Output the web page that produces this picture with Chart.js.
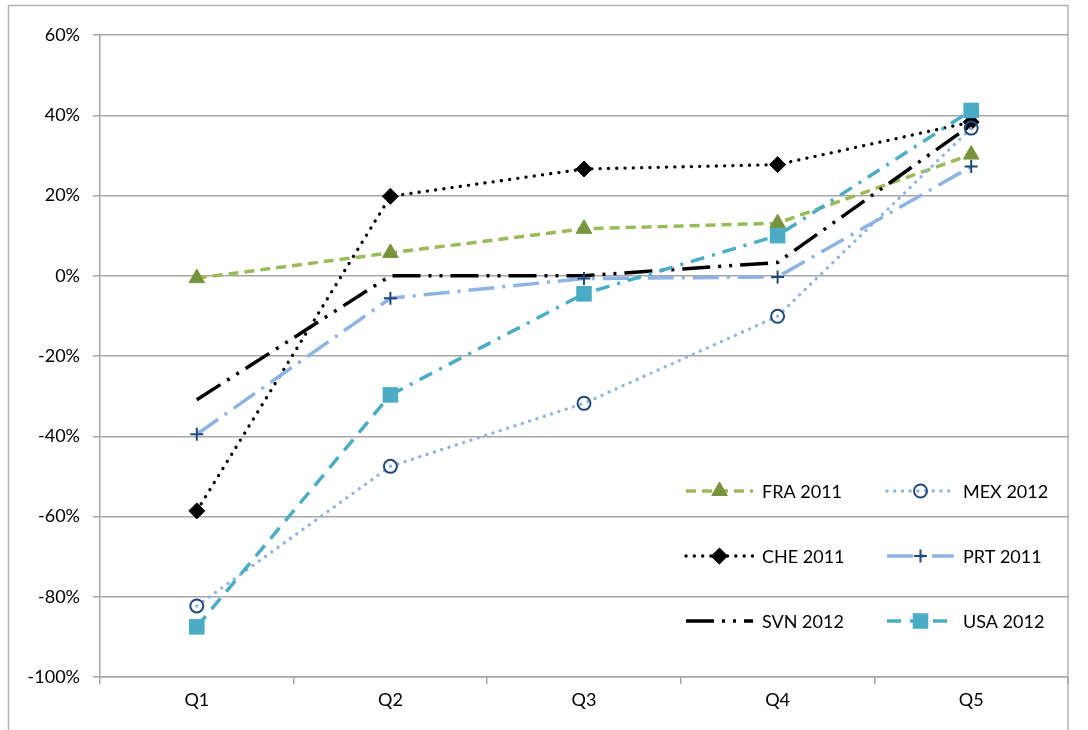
<!DOCTYPE html>
<html>
<head>
<meta charset="utf-8">
<script src="https://cdn.jsdelivr.net/npm/chart.js@4/dist/chart.umd.min.js"></script>
<style>
  html, body { margin: 0; padding: 0; background: #fff; }
  #wrap { width: 1088px; height: 730px; position: relative; }
</style>
</head>
<body>
<div id="wrap"><canvas id="quintilChart" width="1088" height="730"></canvas></div>
<script>
// categorias y series (en %)
const categories = ['Q1', 'Q2', 'Q3', 'Q4', 'Q5'];
const fra2011 = [-0.6, 5.7, 11.7, 13.1, 30.2];
const mex2012 = [-82.3, -47.5, -31.8, -10.1, 36.8];
const che2011 = [-58.6, 19.8, 26.6, 27.7, 38.3];
const prt2011 = [-39.5, -5.6, -0.7, -0.3, 27.2];
const svn2012 = [-30.9, 0.0, 0.0, 3.3, 37.6];
const usa2012 = [-87.5, -29.7, -4.5, 10.0, 41.2];
const yTicks = [60, 40, 20, 0, -20, -40, -60, -80, -100];

const FONT = 'Lato, "Open Sans", sans-serif';

const datasets = [{
    label: 'FRA 2011', data: fra2011,
    borderColor: '#9bbb59', borderWidth: 3.5, borderDash: [10, 6],
    pointStyle: 'triangle', pointRadius: 9, pointBackgroundColor: '#77933c', pointBorderColor: '#77933c', pointBorderWidth: 1,
    order: 6
}, {
    label: 'MEX 2012', data: mex2012,
    borderColor: '#8eb4e3', borderWidth: 3.3, borderDash: [0.1, 7.6], borderCapStyle: 'round',
    pointStyle: 'circle', pointRadius: 6.5, pointBackgroundColor: 'rgba(0,0,0,0)', pointBorderColor: '#1f497d', pointBorderWidth: 2,
    order: 3
}, {
    label: 'CHE 2011', data: che2011,
    borderColor: '#000000', borderWidth: 3.3, borderDash: [0.1, 8.2], borderCapStyle: 'round',
    pointStyle: 'rectRot', pointRadius: 8, pointBackgroundColor: '#000000', pointBorderColor: '#000000', pointBorderWidth: 1,
    order: 5
}, {
    label: 'PRT 2011', data: prt2011,
    borderColor: '#8eb4e3', borderWidth: 3.5, borderDash: [26, 8, 3, 8],
    pointStyle: 'cross', pointRadius: 6.5, pointBackgroundColor: '#1f497d', pointBorderColor: '#1f497d', pointBorderWidth: 2,
    order: 2
}, {
    label: 'SVN 2012', data: svn2012,
    borderColor: '#000000', borderWidth: 3.5, borderDash: [28, 8, 3, 8, 3, 8],
    pointRadius: 0, pointStyle: false,
    order: 4
}, {
    label: 'USA 2012', data: usa2012,
    borderColor: '#4bacc6', borderWidth: 3.5, borderDash: [14, 8, 3, 8],
    segment: { borderDash: c => c.p0DataIndex === 0 ? [14, 9] : [14, 8, 3, 8] },
    pointStyle: 'rect', pointRadius: 11, pointBackgroundColor: '#4bacc6', pointBorderColor: '#4bacc6', pointBorderWidth: 0,
    order: 1
}];
datasets.forEach(d => { d.fill = false; d.tension = 0; d.pointHoverRadius = d.pointRadius; });

// marco exterior y leyenda dentro del area del grafico
const decoPlugin = {
    id: 'deco',
    beforeDraw(chart) {
        const c = chart.ctx;
        c.save();
        c.strokeStyle = '#b3b3b3';
        c.lineWidth = 1.5;
        c.beginPath();
        c.moveTo(8.5, 740);
        c.lineTo(8.5, 5.5);
        c.lineTo(1068, 5.5);
        c.lineTo(1068, 740);
        c.stroke();
        c.restore();
    },
    afterDraw(chart) {
        const c = chart.ctx;
        const rows = [491, 556, 621];
        const cols = [686, 887];
        chart.data.datasets.forEach((ds, i) => {
            const x0 = cols[i % 2];
            const y = rows[Math.floor(i / 2)];
            c.save();
            c.strokeStyle = ds.borderColor;
            c.lineWidth = ds.borderWidth;
            c.lineCap = ds.borderCapStyle || 'butt';
            c.setLineDash(ds.label === 'USA 2012' ? [14, 9] : ds.borderDash);
            c.beginPath();
            c.moveTo(x0, y);
            c.lineTo(x0 + 67, y);
            c.stroke();
            c.setLineDash([]);
            if (ds.pointRadius > 0) {
                c.fillStyle = ds.pointBackgroundColor;
                c.strokeStyle = ds.pointBorderColor;
                c.lineWidth = ds.pointBorderWidth;
                Chart.helpers.drawPoint(c, {
                    pointStyle: ds.pointStyle, radius: ds.pointRadius, rotation: 0, borderWidth: ds.pointBorderWidth
                }, x0 + 33.5, y);
            }
            c.fillStyle = '#000';
            c.font = '18px ' + FONT;
            c.textBaseline = 'middle';
            c.textAlign = 'left';
            c.fillText(ds.label, x0 + 76, y + 1);
            c.restore();
        });
    }
};

const ctx = document.getElementById('quintilChart').getContext('2d');
const quintilChart = new Chart(ctx, {
    type: 'line',
    data: { labels: categories, datasets: datasets },
    plugins: [decoPlugin],
    options: {
        responsive: false,
        animation: false,
        devicePixelRatio: 1,
        layout: { padding: { top: 35, right: 20, left: 0, bottom: 0 } },
        plugins: { legend: { display: false }, tooltip: { enabled: false } },
        scales: {
            x: {
                offset: true,
                grid: { offset: true, drawOnChartArea: false, color: '#a6a6a6', lineWidth: 1.5, tickLength: 7 },
                border: { color: '#a6a6a6', width: 1.5 },
                ticks: { color: '#000', font: { family: FONT, size: 18 }, padding: 5 },
                afterFit(s) { s.height = 53; }
            },
            y: {
                min: -100, max: 60,
                afterBuildTicks(s) { s.ticks = yTicks.map(v => ({ value: v })); },
                grid: { color: '#a6a6a6', lineWidth: 1.5, tickLength: 7 },
                border: { color: '#a6a6a6', width: 1.5 },
                ticks: {
                    color: '#000', font: { family: FONT, size: 18 }, padding: 13,
                    callback: v => v + '%'
                },
                afterFit(s) { s.width = 100; }
            }
        }
    }
});
</script>
</body>
</html>
